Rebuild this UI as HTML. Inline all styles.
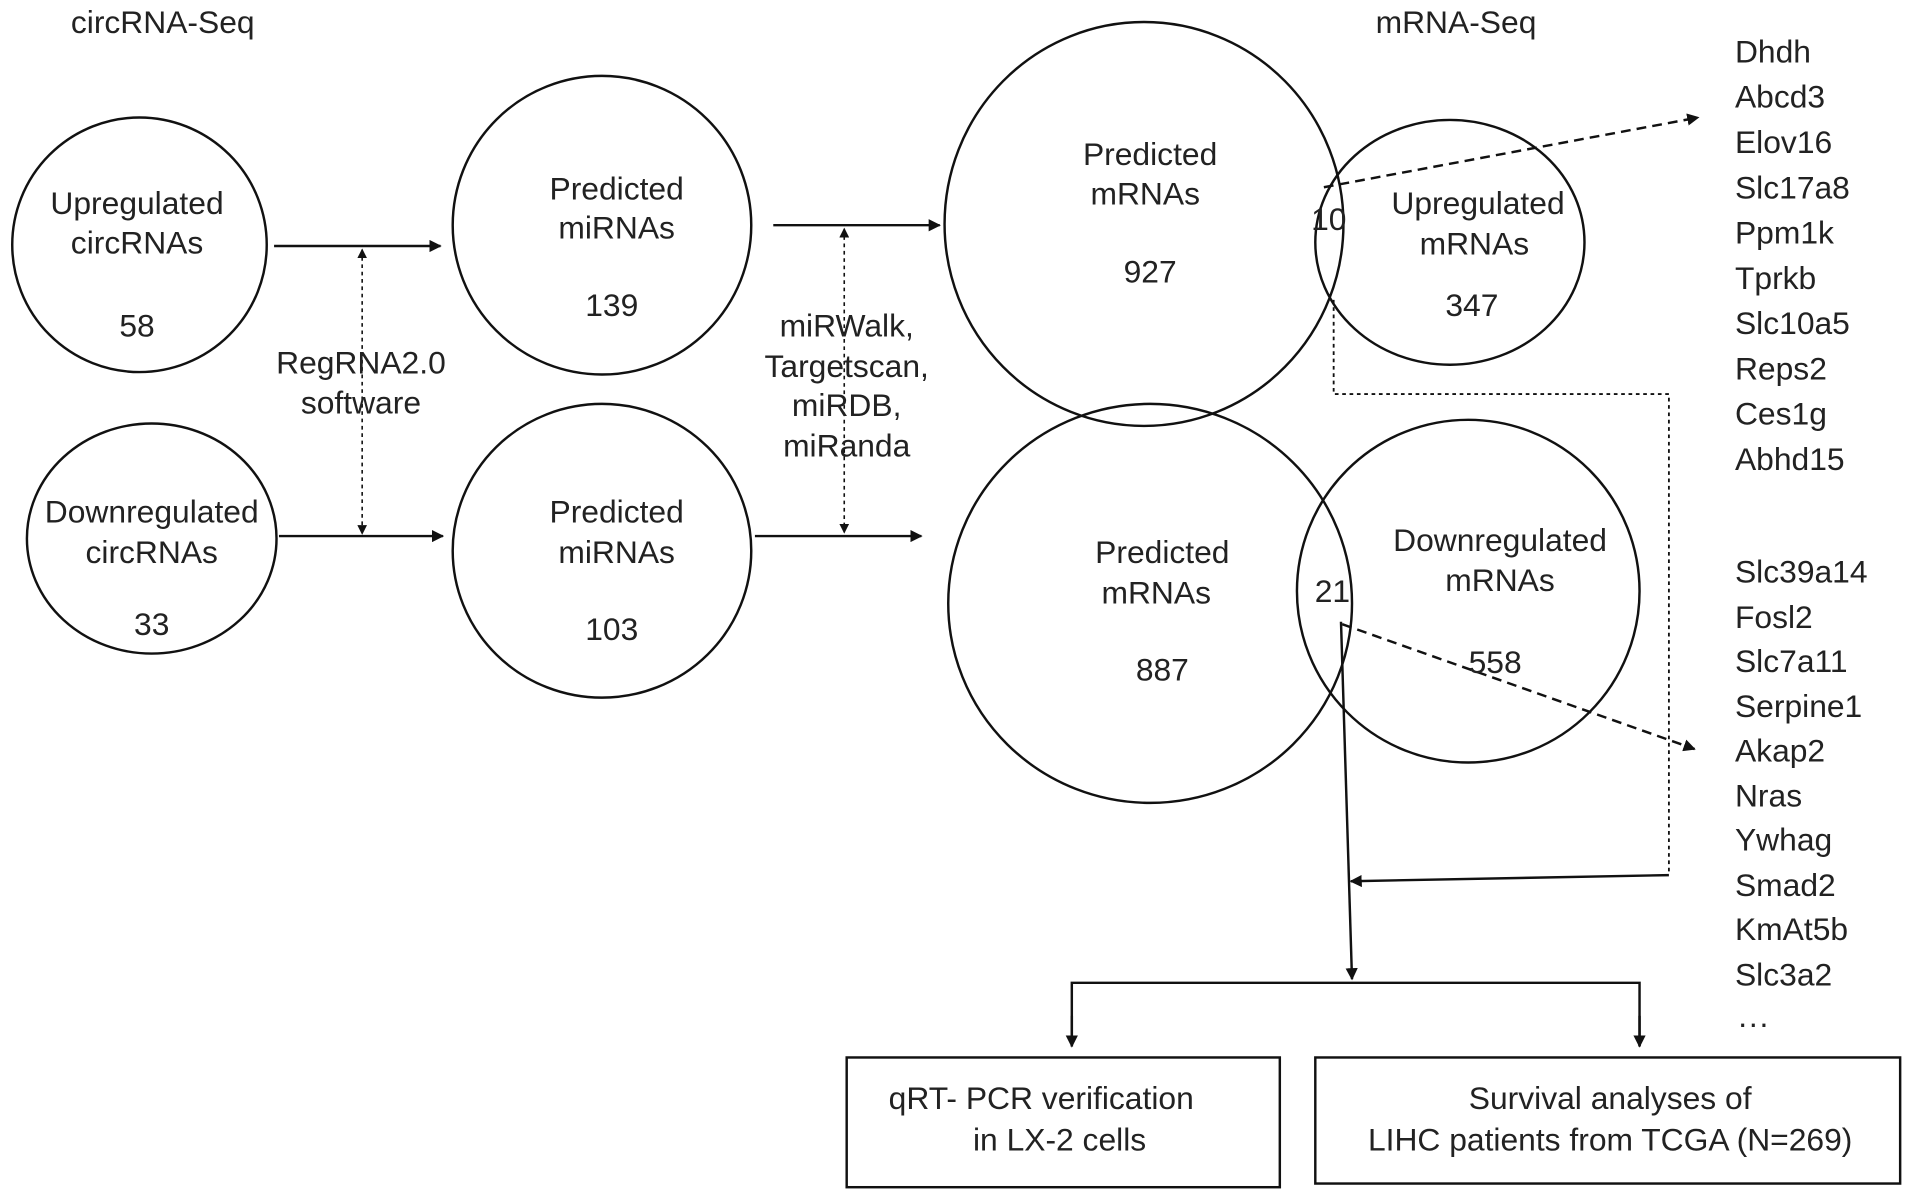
<!DOCTYPE html>
<html><head><meta charset="utf-8"><style>
html,body{margin:0;padding:0;background:#fff;}
svg{display:block;}
text{font-family:"Liberation Sans",Arial,sans-serif;fill:#222;font-size:26px;}
</style></head><body>
<svg width="1913" height="1197" viewBox="0 0 1563.5 978" preserveAspectRatio="none" xmlns="http://www.w3.org/2000/svg">
<defs>
<marker id="a" markerWidth="10" markerHeight="10" refX="9" refY="5" orient="auto" markerUnits="userSpaceOnUse"><path d="M0,0 L10,5 L0,10 z" fill="#111"/></marker>
<marker id="s" markerWidth="8" markerHeight="8" refX="7" refY="4" orient="auto" markerUnits="userSpaceOnUse"><path d="M0,0 L8,4 L0,8 z" fill="#111"/></marker>
<marker id="sb" markerWidth="8" markerHeight="8" refX="1" refY="4" orient="auto" markerUnits="userSpaceOnUse"><path d="M8,0 L0,4 L8,8 z" fill="#111"/></marker>
</defs>
<g fill="none" stroke="#111" stroke-width="2">
<ellipse cx="114" cy="200" rx="104" ry="104"/>
<ellipse cx="124" cy="440" rx="102" ry="94"/>
<ellipse cx="492" cy="184" rx="122" ry="122"/>
<ellipse cx="492" cy="450" rx="122" ry="120"/>
<ellipse cx="935" cy="183" rx="163" ry="165"/>
<ellipse cx="1185" cy="198" rx="110" ry="100"/>
<ellipse cx="940" cy="493" rx="165" ry="163"/>
<ellipse cx="1200" cy="483" rx="140" ry="140"/>
<line x1="224" y1="201" x2="360" y2="201" marker-end="url(#a)"/>
<line x1="228" y1="438" x2="362" y2="438" marker-end="url(#a)"/>
<line x1="632" y1="184" x2="768" y2="184" marker-end="url(#a)"/>
<line x1="617" y1="438" x2="753" y2="438" marker-end="url(#a)"/>
<line x1="296" y1="204" x2="296" y2="436" stroke-width="1.3" stroke-dasharray="3,3" marker-start="url(#sb)" marker-end="url(#s)"/>
<line x1="690" y1="187" x2="690" y2="435" stroke-width="1.3" stroke-dasharray="3,3" marker-start="url(#sb)" marker-end="url(#s)"/>
<line x1="1082" y1="153" x2="1388" y2="96" stroke-dasharray="8,5" marker-end="url(#a)"/>
<line x1="1097" y1="510" x2="1385" y2="612" stroke-dasharray="8,5" marker-end="url(#a)"/>
<polyline points="1090,245 1090,322 1357,322 1364,322 1364,715" stroke-width="1.5" stroke-dasharray="3,3"/>
<line x1="1364" y1="715" x2="1104" y2="720" marker-end="url(#a)"/>
<line x1="1096" y1="508" x2="1105" y2="800" marker-end="url(#a)"/>
<polyline points="876,855 876,803 1340,803 1340,855" />
<line x1="876" y1="830" x2="876" y2="855" marker-end="url(#a)"/>
<line x1="1340" y1="830" x2="1340" y2="855" marker-end="url(#a)"/>
<rect x="692" y="864" width="354" height="106"/>
<rect x="1075" y="864" width="478" height="103"/>
</g>
<g text-anchor="middle">
<text x="133" y="27">circRNA-Seq</text>
<text x="1190" y="27">mRNA-Seq</text>
<text x="112" y="175">Upregulated</text><text x="112" y="207">circRNAs</text><text x="112" y="275">58</text>
<text x="124" y="427">Downregulated</text><text x="124" y="460">circRNAs</text><text x="124" y="519">33</text>
<text x="504" y="163">Predicted</text><text x="504" y="195">miRNAs</text><text x="500" y="258">139</text>
<text x="504" y="427">Predicted</text><text x="504" y="460">miRNAs</text><text x="500" y="523">103</text>
<text x="295" y="305">RegRNA2.0</text><text x="295" y="338">software</text>
<text x="692" y="275">miRWalk,</text><text x="692" y="308">Targetscan,</text><text x="692" y="340">miRDB,</text><text x="692" y="373">miRanda</text>
<text x="940" y="135">Predicted</text><text x="936" y="167">mRNAs</text><text x="940" y="231">927</text>
<text x="1086" y="188">10</text>
<text x="1208" y="175">Upregulated</text><text x="1205" y="208">mRNAs</text><text x="1203" y="258">347</text>
<text x="950" y="460">Predicted</text><text x="945" y="493">mRNAs</text><text x="950" y="556">887</text>
<text x="1089" y="492">21</text>
<text x="1226" y="450">Downregulated</text><text x="1226" y="483">mRNAs</text><text x="1222" y="550">558</text>
<text x="851" y="906">qRT- PCR verification</text><text x="866" y="940">in LX-2 cells</text>
<text x="1316" y="906">Survival analyses of</text><text x="1316" y="940">LIHC patients from TCGA (N=269)</text>
</g>
<g>
<text x="1418" y="51">Dhdh</text><text x="1418" y="88">Abcd3</text><text x="1418" y="125">Elov16</text><text x="1418" y="162">Slc17a8</text><text x="1418" y="199">Ppm1k</text><text x="1418" y="236">Tprkb</text><text x="1418" y="273">Slc10a5</text><text x="1418" y="310">Reps2</text><text x="1418" y="347">Ces1g</text><text x="1418" y="384">Abhd15</text>
<text x="1418" y="476">Slc39a14</text><text x="1418" y="513">Fosl2</text><text x="1418" y="549">Slc7a11</text><text x="1418" y="586">Serpine1</text><text x="1418" y="622">Akap2</text><text x="1418" y="659">Nras</text><text x="1418" y="695">Ywhag</text><text x="1418" y="732">Smad2</text><text x="1418" y="768">KmAt5b</text><text x="1418" y="805">Slc3a2</text><text x="1420" y="845">···</text>
</g>
</svg>
</body></html>
